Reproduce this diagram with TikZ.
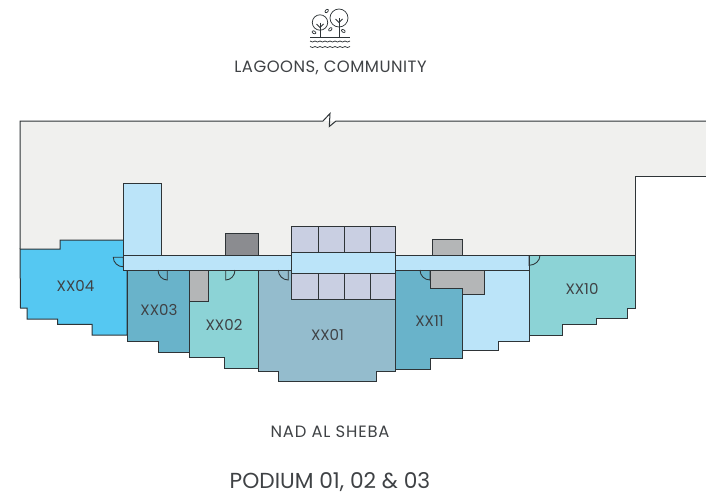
\documentclass[tikz,border=0pt]{standalone}
\usepackage{fontspec}
\setmainfont{Poppins}
\newfontfamily\lblfont{Poppins}
\newfontfamily\topfont[LetterSpace=3]{Poppins}
\newfontfamily\nadfont[LetterSpace=5]{Poppins}
\definecolor{ink}{HTML}{2E3437}
\definecolor{txt}{HTML}{3F4245}
\definecolor{floorc}{HTML}{F0F0EE}
\definecolor{skyc}{HTML}{55C8F2}
\definecolor{tealc}{HTML}{69B3CA}
\definecolor{mintc}{HTML}{8CD3D6}
\definecolor{slatec}{HTML}{94BCCD}
\definecolor{palec}{HTML}{BBE4F9}
\definecolor{gridc}{HTML}{C9CFE2}
\definecolor{darkg}{HTML}{8B8C90}
\definecolor{midg}{HTML}{B4B6B7}
\tikzset{
 x=0.75pt,y=-0.75pt,
 wall/.style={draw=ink,line width=0.75pt,line join=miter},
 door/.style={draw=ink,line width=0.65pt},
 icon/.style={draw=ink,line width=0.55pt},
 unit/.style={text=txt,font=\lblfont\fontsize{11.3}{13}\selectfont,inner sep=0pt},
 title/.style={text=txt,inner sep=0pt},
}
\begin{document}
\begin{tikzpicture}
\useasboundingbox (0,0) rectangle (706,497);
% floor
\fill[floorc] (20,121) -- (706,121) -- (706,176) -- (635,176) -- (635,255) -- (20,255) -- cycle;
\draw[wall] (20,249) -- (20,121) -- (323,121) -- (330,113.5) -- (329.3,126.5) -- (336,121) -- (706,121);
\draw[wall] (706,176) -- (635,176) -- (635,255);
% units
\draw[wall,fill=skyc] (20,249) -- (60,249) -- (60,240) -- (127,240) -- (127,335) -- (92,335) -- (92,324.3) -- (57.5,324.3) -- (57.5,319) -- (27,319) -- (27,308) -- (20.5,308) -- cycle;
\draw[wall,fill=tealc] (127,270) -- (189.5,270) -- (189.5,352) -- (158,352) -- (158,341) -- (127,341) -- cycle;
\draw[wall,fill=mintc] (189.5,270) -- (258,270) -- (258,368) -- (224,368) -- (224,357) -- (189.5,357) -- cycle;
\draw[wall,fill=slatec] (258,270) -- (395,270) -- (395,371.7) -- (376,371.7) -- (376,381.7) -- (278,381.7) -- (278,371.7) -- (258,371.7) -- cycle;
\draw[wall,fill=palec] (462.3,294.3) -- (484.3,294.3) -- (484.3,270) -- (529,270) -- (529,341.7) -- (498.7,341.7) -- (498.7,350) -- (462.3,350) -- cycle;
\draw[wall,fill=midg] (430.7,270) -- (484.3,270) -- (484.3,294.3) -- (462.3,294.3) -- (462.3,288) -- (430.7,288) -- cycle;
\draw[wall,fill=tealc] (395,270) -- (430.7,270) -- (430.7,288) -- (462.3,288) -- (462.3,358.3) -- (430.7,358.3) -- (430.7,369) -- (395,369) -- cycle;
\draw[wall,fill=mintc] (529,255.3) -- (635,255.3) -- (635,308) -- (627.3,308) -- (627.3,318.7) -- (596.7,318.7) -- (596.7,324.3) -- (562,324.3) -- (562,335.7) -- (529,335.7) -- cycle;
% core
\draw[wall,fill=midg] (189.5,270) rectangle (208.5,301);
\draw[wall,fill=palec] (123.5,183.5) rectangle (161,255.3);
\draw[wall,fill=darkg] (225,233) rectangle (258,255.3);
\draw[wall,fill=midg] (432.3,239.3) rectangle (462,255.3);
\draw[wall,fill=palec] (123.5,255.3) rectangle (529,270);
\draw[wall,fill=gridc] (291.7,226) rectangle (395,252.3);
\draw[wall,fill=gridc] (291.7,273) rectangle (395,299);
\draw[wall,fill=palec] (291.7,252.3) rectangle (395,273);
\foreach \cx in {318.3,344.3,370}{
 \draw[wall] (\cx,226) -- (\cx,252.3);
 \draw[wall] (\cx,273) -- (\cx,299);
}
% doors
\draw[door] (113.3,257.3) arc[start angle=180,end angle=90,x radius=10,y radius=9.5] -- (123.3,257.3) -- cycle;
\draw[door] (158,270) arc[start angle=180,end angle=90,x radius=9.3,y radius=10] -- (167.3,270);
\draw[door] (235,270) arc[start angle=0,end angle=90,x radius=9.3,y radius=10] -- (225.7,270);
\draw[door] (278.3,270) arc[start angle=180,end angle=90,x radius=10,y radius=10] -- (288.3,270);
\draw[door] (420,270) arc[start angle=180,end angle=90,x radius=10,y radius=10] -- (430,270);
\draw[door] (540,255.3) arc[start angle=0,end angle=90,x radius=11,y radius=10] -- (529,255.3);
% labels
\node[unit] (u04) at (75.5,286) {XX04};
\node[unit] (u03) at (159,309.5) {XX03};
\node[unit] (u02) at (224,324.5) {XX02};
\node[unit] (u01) at (327.5,334.5) {XX01};
\node[unit] (u11) at (429.5,321) {XX11};
\node[unit] (u10) at (582,288.5) {XX10};
\node[title,font=\topfont\fontsize{12.3}{14}\selectfont] (top) at (330.5,67.5) {LAGOONS, COMMUNITY};
\node[title,font=\nadfont\fontsize{12.3}{14}\selectfont] (nad) at (330,432) {NAD AL SHEBA};
\node[title,font=\lblfont\fontsize{16.3}{19}\selectfont] (pod) at (330,482.5) {PODIUM 01, 02 \& 03};
% icon
\draw[icon] (320,22.5) circle[radius=7.7];
\draw[icon] (339,18) circle[radius=9];
\draw[icon] (320,22.5) -- (320,37);
\draw[icon] (339,18) -- (339,37);
\draw[icon] (316.5,24) -- (320,27.5) -- (323.5,24);
\draw[icon] (335.5,19) -- (339,22.5) -- (342.5,19);
\draw[icon] (310,37) -- (349.5,37);
\draw[icon,rotate around={45:(326.7,11)}] (326.7,11) ellipse[x radius=2,y radius=1.3];
\draw[icon,rotate around={-30:(314,32.3)}] (314,32.3) ellipse[x radius=2,y radius=1.3];
\draw[icon,rotate around={45:(330.3,29.3)}] (330.3,29.3) ellipse[x radius=2,y radius=1.3];
\draw[icon,rotate around={-30:(343.3,31)}] (343.3,31) ellipse[x radius=2,y radius=1.3];
\foreach \wy in {41,46.5}{
 \draw[icon] (310,\wy) \foreach \k in {1,...,8}{ to[bend right=45] ++(5,0) };
}
\end{tikzpicture}
\end{document}
